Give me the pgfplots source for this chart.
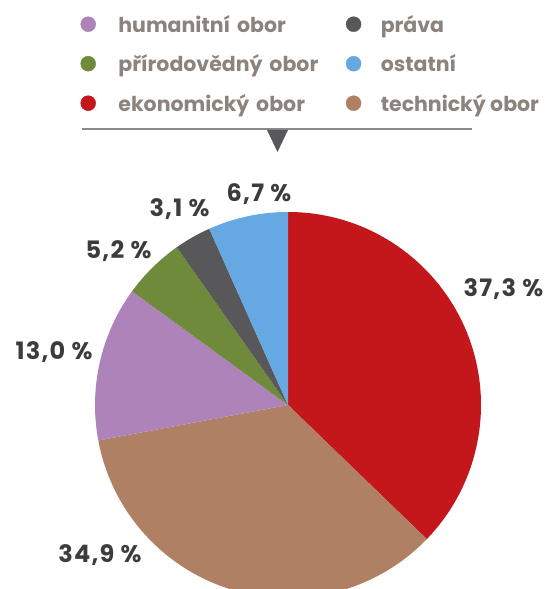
\documentclass[border=0pt]{standalone}
\usepackage{pgfplots}
\pgfplotsset{compat=1.18}
\usepackage{pgfplotstable}
\usepackage{fontspec}
\setmainfont{Poppins}
\newfontfamily\labfont[LetterSpace=5]{Poppins}

\definecolor{cEkon}{RGB}{196,23,28}
\definecolor{cTech}{RGB}{176,128,101}
\definecolor{cHum}{RGB}{174,131,186}
\definecolor{cPrir}{RGB}{110,138,58}
\definecolor{cPrava}{RGB}{88,88,90}
\definecolor{cOst}{RGB}{102,168,225}
\definecolor{cLeg}{RGB}{140,131,125}
\definecolor{cLab}{RGB}{60,60,62}
\definecolor{cLine}{RGB}{138,138,138}

% slices clockwise from 12 o'clock
\pgfplotstableread{
value color
37.3 cEkon
34.9 cTech
13.0 cHum
5.2 cPrir
3.1 cPrava
6.7 cOst
}\piedata

\begin{document}
\begin{tikzpicture}
\begin{axis}[
  x=1pt, y=1pt, xmin=0, xmax=546, ymin=0, ymax=589,
  hide axis, clip=false,
  legend image code/.code={\fill (0pt,0pt) circle (7.5pt);},
  legend columns=2,
  legend cell align=left,
  legend style={
    at={(axis cs:80.5,574.5)}, anchor=north west,
    draw=none, fill=none, inner sep=0pt, outer sep=0pt,
    row sep=20.1pt,
    font=\fontsize{20.5}{21}\selectfont\bfseries,
    text=cLeg,
    nodes={inner sep=0pt, text height=18pt, text depth=1.4pt},
    /tikz/column 1/.style={column sep=22.5pt},
    /tikz/column 2/.style={column sep=0pt, nodes={text width=227.5pt}},
    /tikz/column 3/.style={column sep=19.5pt},
  },
]
\addlegendimage{cHum}\addlegendentry{humanitní obor}
\addlegendimage{cPrava}\addlegendentry{práva}
\addlegendimage{cPrir}\addlegendentry{přírodovědný obor}
\addlegendimage{cOst}\addlegendentry{ostatní}
\addlegendimage{cEkon}\addlegendentry{ekonomický obor}
\addlegendimage{cTech}\addlegendentry{technický obor}

% pie slices
\pgfplotstablegetrowsof{\piedata}
\pgfmathtruncatemacro\lastrow{\pgfplotsretval-1}
\def\angstart{90}
\pgfplotsforeachungrouped \rowidx in {0,...,\lastrow}{%
  \pgfplotstablegetelem{\rowidx}{value}\of\piedata
  \let\sliceval\pgfplotsretval
  \pgfplotstablegetelem{\rowidx}{color}\of\piedata
  \let\slicecol\pgfplotsretval
  \pgfmathsetmacro\angend{\angstart-360*\sliceval/100.2}%
  \edef\temp{\noexpand\fill[\slicecol] (axis cs:288,184) -- ++(\angstart:193pt) arc[start angle=\angstart, end angle=\angend, radius=193pt] -- cycle;}%
  \temp
  \let\angstart\angend
}

% separator line and pointer
\draw[cLine, line width=1.6pt] (axis cs:82,460) -- (axis cs:472,460);
\fill[cPrava] (axis cs:267,459) -- (axis cs:288,459) -- (axis cs:277.5,437) -- cycle;

% value labels
\begin{scope}[every node/.style={anchor=base, text=cLab, font=\labfont\fontsize{24}{24}\selectfont\bfseries, inner sep=0pt}]
\node at (axis cs:503.5,292) {37,3 \%};
\node at (axis cs:100,26) {34,9 \%};
\node at (axis cs:54,229) {13,0 \%};
\node at (axis cs:118.5,330) {5,2 \%};
\node at (axis cs:179.5,372) {3,1 \%};
\node at (axis cs:259,387) {6,7 \%};
\end{scope}
\end{axis}
\pgfresetboundingbox
\path[use as bounding box] (current axis.south west) rectangle (current axis.north east);
\end{tikzpicture}
\end{document}
